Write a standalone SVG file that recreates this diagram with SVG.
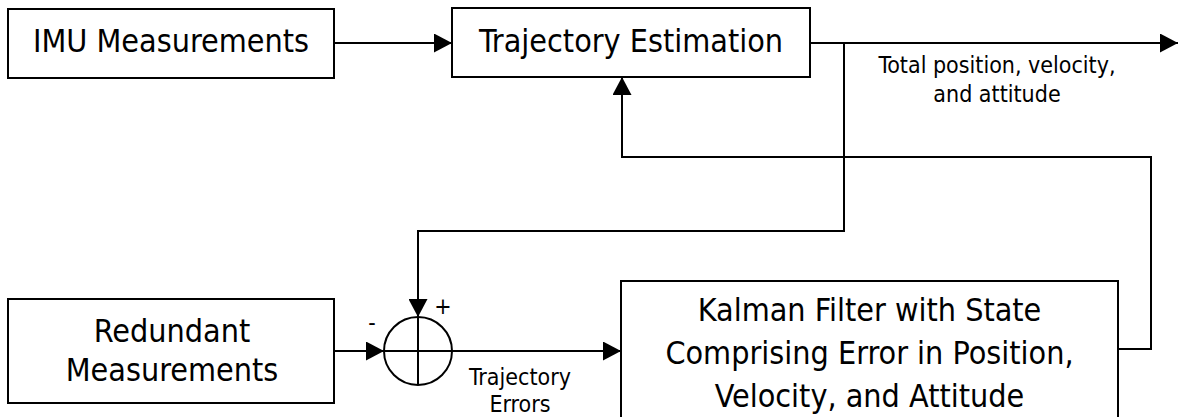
<svg xmlns="http://www.w3.org/2000/svg" width="1178" height="417" viewBox="0 0 1178 417">
  <style>
    .box { fill: #fff; stroke: #000; stroke-width: 2; }
    .wire { fill: none; stroke: #000; stroke-width: 2; }
    .big { font-family: "DejaVu Sans Condensed", "DejaVu Sans", sans-serif; font-stretch: condensed; font-size: 32px; fill: #000; text-anchor: middle; }
    .small { font-family: "DejaVu Sans Condensed", "DejaVu Sans", sans-serif; font-stretch: condensed; font-size: 23px; fill: #000; text-anchor: middle; }
  </style>
  <defs>
    <marker id="arrow" markerUnits="userSpaceOnUse" markerWidth="19" markerHeight="19" refX="18" refY="9.5" orient="auto">
      <path d="M0,0 L18,9.5 L0,19 Z" fill="#000"/>
    </marker>
  </defs>
  <rect width="1178" height="417" fill="#fff"/>

  <!-- signal paths -->
  <g id="connectors">
    <path class="wire" d="M334,43 H452" marker-end="url(#arrow)"/>
    <path class="wire" d="M810,43 H1178" marker-end="url(#arrow)"/>
    <path class="wire" d="M844,43 V231 H418 V317" marker-end="url(#arrow)"/>
    <path class="wire" d="M334,351 H384" marker-end="url(#arrow)"/>
    <path class="wire" d="M452,351 H621" marker-end="url(#arrow)"/>
    <path class="wire" d="M1118,349 H1151 V157 H622 V77" marker-end="url(#arrow)"/>
  </g>

  <g id="imu">
    <rect class="box" x="8" y="9" width="326" height="69"/>
    <text class="big" x="171" y="52">IMU Measurements</text>
  </g>

  <g id="trajectory">
    <rect class="box" x="452" y="8" width="358" height="69"/>
    <text class="big" x="631" y="52">Trajectory Estimation</text>
  </g>

  <g id="output-label">
    <text class="small" x="997" y="73">Total position, velocity,</text>
    <text class="small" x="997" y="102">and attitude</text>
  </g>

  <g id="redundant">
    <rect class="box" x="8" y="299" width="326" height="104"/>
    <text class="big" x="172" y="342">Redundant</text>
    <text class="big" x="172" y="381">Measurements</text>
  </g>

  <g id="sum">
    <circle class="wire" cx="418" cy="351" r="34"/>
    <path class="wire" d="M384,351 H452 M418,317 V385"/>
    <text class="small" x="372" y="330">-</text>
    <text class="small" x="443" y="314">+</text>
  </g>

  <g id="error-label">
    <text class="small" x="520" y="385">Trajectory</text>
    <text class="small" x="520" y="412">Errors</text>
  </g>

  <g id="kalman">
    <rect class="box" x="621" y="281" width="497" height="145"/>
    <text class="big" x="869.5" y="321">Kalman Filter with State</text>
    <text class="big" x="869.5" y="364">Comprising Error in Position,</text>
    <text class="big" x="869.5" y="407">Velocity, and Attitude</text>
  </g>
</svg>
